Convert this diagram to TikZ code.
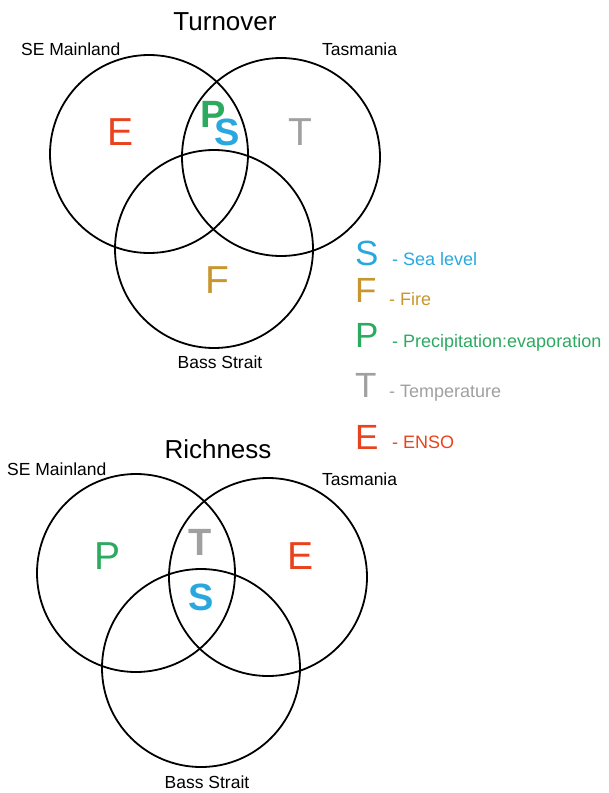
\documentclass[tikz,border=0pt]{standalone}
\usepackage{fontspec}
\setmainfont{Liberation Sans}
\usepackage{tikz}
\definecolor{ensored}{RGB}{232,67,30}
\definecolor{seablue}{RGB}{41,168,224}
\definecolor{precipgreen}{RGB}{44,170,95}
\definecolor{firegold}{RGB}{200,150,46}
\definecolor{tempgrey}{RGB}{160,160,160}

\begin{document}
\begin{tikzpicture}[x=1pt,y=-1pt,
  region/.style={circle,draw=black,line width=1.8pt,minimum size=198pt,inner sep=0pt},
  site/.style={font=\fontsize{17.5}{20}\selectfont,inner sep=0pt,anchor=base west},
  heading/.style={font=\fontsize{26}{30}\selectfont,inner sep=0pt,anchor=base},
  driver/.style={font=\fontsize{39}{44}\selectfont,inner sep=0pt,anchor=base},
  keyletter/.style={font=\fontsize{35}{40}\selectfont,inner sep=0pt,anchor=base west},
  keytext/.style={font=\fontsize{18}{21}\selectfont,inner sep=0pt,anchor=base west}]
\useasboundingbox (0,0) rectangle (609,793);

% Turnover
\node[heading] (turnover) at (225,30) {Turnover};
\node[region] (tmain) at (149,154) {};
\node[region] (ttas) at (281,157) {};
\node[region] (tbass) at (214,249) {};
\node[site] (tmainlbl) at (21,55) {SE Mainland};
\node[site] (ttaslbl) at (322,55) {Tasmania};
\node[site,anchor=base] (tbasslbl) at (220,368) {Bass Strait};
\node[driver,text=ensored] (tE) at (121,145) {E};
\node[driver,text=tempgrey] (tT) at (300,145) {T};
\node[driver,text=precipgreen,font=\fontsize{38}{44}\selectfont\bfseries] (tP) at (213,127) {P};
\node[driver,text=seablue,font=\fontsize{38}{44}\selectfont\bfseries] (tS) at (227,145) {S};
\node[driver,text=firegold] (tF) at (217,293) {F};

% key
\node[keyletter,text=seablue] (keyS) at (355,265) {S};
\node[keytext,text=seablue] (keySlbl) at (392,265) {- Sea level};
\node[keyletter,text=firegold] (keyF) at (355,302) {F};
\node[keytext,text=firegold] (keyFlbl) at (389,305) {- Fire};
\node[keyletter,text=precipgreen] (keyP) at (355,347) {P};
\node[keytext,text=precipgreen] (keyPlbl) at (392,347) {- Precipitation:evaporation};
\node[keyletter,text=tempgrey] (keyT) at (355,397) {T};
\node[keytext,text=tempgrey] (keyTlbl) at (389,397) {- Temperature};
\node[keyletter,text=ensored] (keyE) at (355,449) {E};
\node[keytext,text=ensored] (keyElbl) at (392,448) {- ENSO};

% Richness
\node[heading] (richness) at (218,458) {Richness};
\node[region] (rmain) at (136,573) {};
\node[region] (rtas) at (268,577) {};
\node[region] (rbass) at (201,668) {};
\node[site] (rmainlbl) at (7,475) {SE Mainland};
\node[site] (rtaslbl) at (322,485) {Tasmania};
\node[site,anchor=base] (rbasslbl) at (207,788) {Bass Strait};
\node[driver,text=precipgreen] (rP) at (108,569) {P};
\node[driver,text=tempgrey,font=\fontsize{38}{44}\selectfont\bfseries] (rT) at (200,555) {T};
\node[driver,text=ensored] (rE) at (301,569) {E};
\node[driver,text=seablue,font=\fontsize{38}{44}\selectfont\bfseries] (rS) at (201,610) {S};
\end{tikzpicture}
\end{document}
